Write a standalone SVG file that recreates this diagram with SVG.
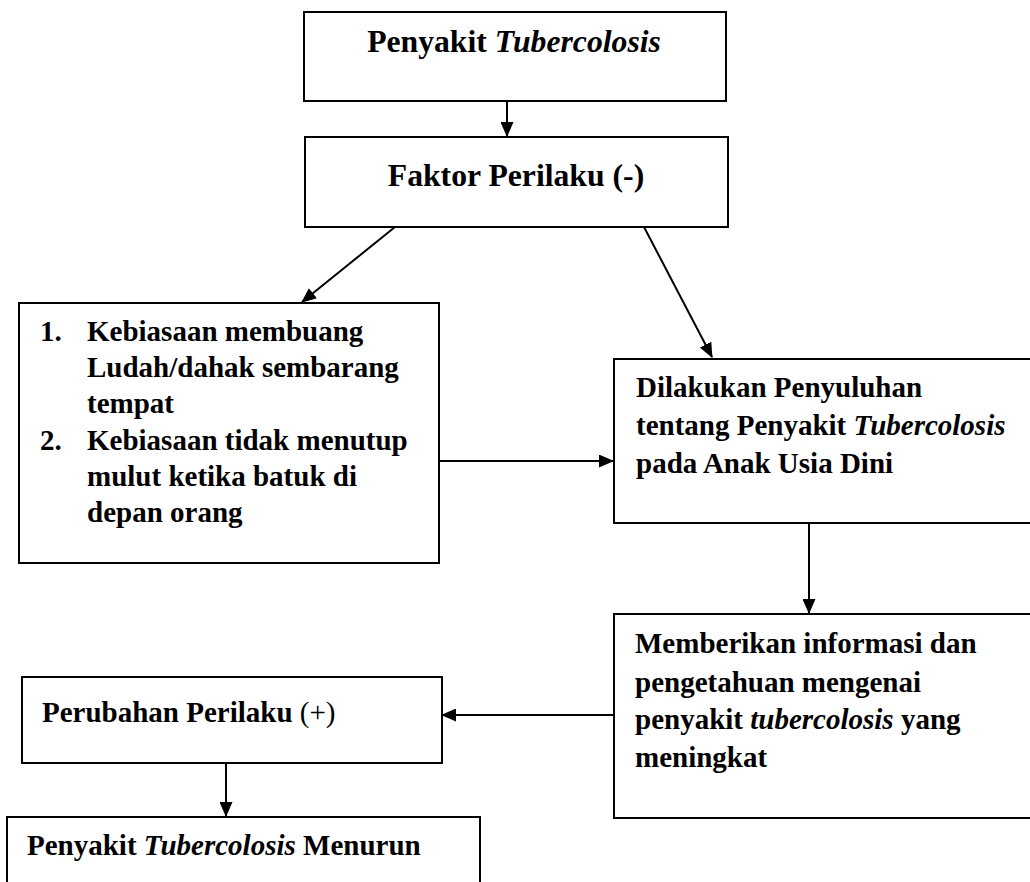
<svg xmlns="http://www.w3.org/2000/svg" width="1030" height="882" viewBox="0 0 1030 882">
<style>
.box{fill:#fff;stroke:#000;stroke-width:2}
.t{font-family:"Liberation Serif","Times New Roman",serif;font-weight:bold;font-size:29px;fill:#000}
.big{font-size:31.7px}
.it{font-style:italic}
.nb{font-weight:normal}
.c{stroke:#000;stroke-width:2;fill:none}
</style>
<defs>
<marker id="ah" markerUnits="userSpaceOnUse" markerWidth="15" markerHeight="13" refX="14" refY="6.5" orient="auto">
<path d="M0,0 L15,6.5 L0,13 z" fill="#000"/>
</marker>
</defs>
<rect width="1030" height="882" fill="#fff"/>
<g id="connectors">
<line class="c" x1="507" y1="101" x2="507" y2="136" marker-end="url(#ah)"/>
<line class="c" x1="395" y1="227" x2="302" y2="302" marker-end="url(#ah)"/>
<line class="c" x1="644" y1="227" x2="712" y2="357" marker-end="url(#ah)"/>
<line class="c" x1="440" y1="461" x2="613" y2="461" marker-end="url(#ah)"/>
<line class="c" x1="809" y1="523" x2="809" y2="613" marker-end="url(#ah)"/>
<line class="c" x1="614" y1="715" x2="442" y2="715" stroke-width="3" marker-end="url(#ah)"/>
<line class="c" x1="226" y1="763" x2="226" y2="816" marker-end="url(#ah)"/>
</g>
<g id="n1">
<rect class="box" x="304" y="12" width="422" height="89"/>
<text class="t big" x="514" y="52" text-anchor="middle">Penyakit <tspan class="it">Tubercolosis</tspan></text>
</g>
<g id="n2">
<rect class="box" x="305" y="137" width="423" height="90"/>
<text class="t big" x="516" y="186" text-anchor="middle">Faktor Perilaku (-)</text>
</g>
<g id="n3">
<rect class="box" x="19" y="303" width="420" height="260"/>
<text class="t" x="40" y="341">1.</text>
<text class="t" x="87" y="341">Kebiasaan membuang</text>
<text class="t" x="87" y="377">Ludah/dahak sembarang</text>
<text class="t" x="87" y="413">tempat</text>
<text class="t" x="40" y="450">2.</text>
<text class="t" x="87" y="450">Kebiasaan tidak menutup</text>
<text class="t" x="87" y="486">mulut ketika batuk di</text>
<text class="t" x="87" y="522">depan orang</text>
</g>
<g id="n4">
<rect class="box" x="614" y="359" width="440" height="164"/>
<text class="t" x="636" y="397">Dilakukan Penyuluhan</text>
<text class="t" x="636" y="435">tentang Penyakit <tspan class="it">Tubercolosis</tspan></text>
<text class="t" x="636" y="473">pada Anak Usia Dini</text>
</g>
<g id="n5">
<rect class="box" x="614" y="614" width="440" height="204"/>
<text class="t" x="635" y="653">Memberikan informasi dan</text>
<text class="t" x="635" y="692">pengetahuan mengenai</text>
<text class="t" x="635" y="729">penyakit <tspan class="it">tubercolosis</tspan> yang</text>
<text class="t" x="635" y="767">meningkat</text>
</g>
<g id="n6">
<rect class="box" x="22" y="677" width="420" height="86"/>
<text class="t" x="42" y="722">Perubahan Perilaku <tspan class="nb">(+)</tspan></text>
</g>
<g id="n7">
<rect class="box" x="7" y="817" width="473" height="80"/>
<text class="t" x="27" y="855">Penyakit <tspan class="it">Tubercolosis</tspan> Menurun</text>
</g>
</svg>
